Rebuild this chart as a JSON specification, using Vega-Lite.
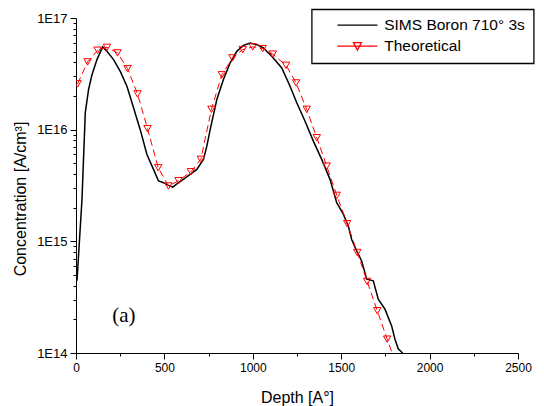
{
  "$schema": "https://vega.github.io/schema/vega-lite/v6.json",
  "width": 442,
  "height": 335,
  "autosize": {"type": "none"},
  "padding": {"left": 76, "top": 18, "right": 26, "bottom": 53},
  "background": "white",
  "config": {
    "view": {"stroke": null},
    "font": "Liberation Sans",
    "axis": {
      "grid": false,
      "domainColor": "black",
      "domainWidth": 1,
      "tickColor": "black",
      "tickWidth": 1,
      "labelColor": "black",
      "titleColor": "black",
      "labelFont": "Liberation Sans",
      "titleFont": "Liberation Sans",
      "titleFontWeight": "normal",
      "labelOverlap": false,
      "labelFlush": false
    }
  },
  "datasets": {
    "sims": [
      {"depth": 5.6, "conc": 4.43e14, "series": "SIMS Boron 710° 3s"},
      {"depth": 33.9, "conc": 2.38e15, "series": "SIMS Boron 710° 3s"},
      {"depth": 52.5, "conc": 1.42e16, "series": "SIMS Boron 710° 3s"},
      {"depth": 71.2, "conc": 2.29e16, "series": "SIMS Boron 710° 3s"},
      {"depth": 90.4, "conc": 3.11e16, "series": "SIMS Boron 710° 3s"},
      {"depth": 118.6, "conc": 4.24e16, "series": "SIMS Boron 710° 3s"},
      {"depth": 150.3, "conc": 5.51e16, "series": "SIMS Boron 710° 3s"},
      {"depth": 175.1, "conc": 5.03e16, "series": "SIMS Boron 710° 3s"},
      {"depth": 212.4, "conc": 4.24e16, "series": "SIMS Boron 710° 3s"},
      {"depth": 250.3, "conc": 3.33e16, "series": "SIMS Boron 710° 3s"},
      {"depth": 288.1, "conc": 2.45e16, "series": "SIMS Boron 710° 3s"},
      {"depth": 325.4, "conc": 1.57e16, "series": "SIMS Boron 710° 3s"},
      {"depth": 363.3, "conc": 1.0e16, "series": "SIMS Boron 710° 3s"},
      {"depth": 401.1, "conc": 6.0e15, "series": "SIMS Boron 710° 3s"},
      {"depth": 438.4, "conc": 4.41e15, "series": "SIMS Boron 710° 3s"},
      {"depth": 466.7, "conc": 3.47e15, "series": "SIMS Boron 710° 3s"},
      {"depth": 494.9, "conc": 3.35e15, "series": "SIMS Boron 710° 3s"},
      {"depth": 523.2, "conc": 3.17e15, "series": "SIMS Boron 710° 3s"},
      {"depth": 548.0, "conc": 3.06e15, "series": "SIMS Boron 710° 3s"},
      {"depth": 566.7, "conc": 3.24e15, "series": "SIMS Boron 710° 3s"},
      {"depth": 598.9, "conc": 3.52e15, "series": "SIMS Boron 710° 3s"},
      {"depth": 645.8, "conc": 3.98e15, "series": "SIMS Boron 710° 3s"},
      {"depth": 683.6, "conc": 4.41e15, "series": "SIMS Boron 710° 3s"},
      {"depth": 720.9, "conc": 5.42e15, "series": "SIMS Boron 710° 3s"},
      {"depth": 740.1, "conc": 7.12e15, "series": "SIMS Boron 710° 3s"},
      {"depth": 758.8, "conc": 1.0e16, "series": "SIMS Boron 710° 3s"},
      {"depth": 796.6, "conc": 1.86e16, "series": "SIMS Boron 710° 3s"},
      {"depth": 833.9, "conc": 2.81e16, "series": "SIMS Boron 710° 3s"},
      {"depth": 871.8, "conc": 3.96e16, "series": "SIMS Boron 710° 3s"},
      {"depth": 909.6, "conc": 5.03e16, "series": "SIMS Boron 710° 3s"},
      {"depth": 946.9, "conc": 5.69e16, "series": "SIMS Boron 710° 3s"},
      {"depth": 984.7, "conc": 5.98e16, "series": "SIMS Boron 710° 3s"},
      {"depth": 1022.6, "conc": 5.77e16, "series": "SIMS Boron 710° 3s"},
      {"depth": 1059.9, "conc": 5.4e16, "series": "SIMS Boron 710° 3s"},
      {"depth": 1107.3, "conc": 4.54e16, "series": "SIMS Boron 710° 3s"},
      {"depth": 1163.8, "conc": 3.57e16, "series": "SIMS Boron 710° 3s"},
      {"depth": 1210.7, "conc": 2.45e16, "series": "SIMS Boron 710° 3s"},
      {"depth": 1248.6, "conc": 1.74e16, "series": "SIMS Boron 710° 3s"},
      {"depth": 1295.5, "conc": 1.19e16, "series": "SIMS Boron 710° 3s"},
      {"depth": 1342.4, "conc": 7.89e15, "series": "SIMS Boron 710° 3s"},
      {"depth": 1389.8, "conc": 5.42e15, "series": "SIMS Boron 710° 3s"},
      {"depth": 1436.7, "conc": 3.59e15, "series": "SIMS Boron 710° 3s"},
      {"depth": 1474.6, "conc": 2.22e15, "series": "SIMS Boron 710° 3s"},
      {"depth": 1511.9, "conc": 1.75e15, "series": "SIMS Boron 710° 3s"},
      {"depth": 1540.1, "conc": 1.37e15, "series": "SIMS Boron 710° 3s"},
      {"depth": 1559.3, "conc": 1.04e15, "series": "SIMS Boron 710° 3s"},
      {"depth": 1587.6, "conc": 8.2e14, "series": "SIMS Boron 710° 3s"},
      {"depth": 1615.8, "conc": 6.68e14, "series": "SIMS Boron 710° 3s"},
      {"depth": 1644.1, "conc": 4.58e14, "series": "SIMS Boron 710° 3s"},
      {"depth": 1681.4, "conc": 4.43e14, "series": "SIMS Boron 710° 3s"},
      {"depth": 1709.6, "conc": 3.04e14, "series": "SIMS Boron 710° 3s"},
      {"depth": 1747.5, "conc": 2.47e14, "series": "SIMS Boron 710° 3s"},
      {"depth": 1785.3, "conc": 1.75e14, "series": "SIMS Boron 710° 3s"},
      {"depth": 1804.0, "conc": 1.33e14, "series": "SIMS Boron 710° 3s"},
      {"depth": 1822.6, "conc": 1.09e14, "series": "SIMS Boron 710° 3s"},
      {"depth": 1847.5, "conc": 1.0e14, "series": "SIMS Boron 710° 3s"}
    ],
    "theo": [
      {"depth": 9, "conc": 2.57e16, "series": "Theoretical"},
      {"depth": 65.5, "conc": 4.04e16, "series": "Theoretical"},
      {"depth": 122, "conc": 5.14e16, "series": "Theoretical"},
      {"depth": 175, "conc": 5.46e16, "series": "Theoretical"},
      {"depth": 235, "conc": 4.87e16, "series": "Theoretical"},
      {"depth": 291.5, "conc": 3.52e16, "series": "Theoretical"},
      {"depth": 348, "conc": 2.09e16, "series": "Theoretical"},
      {"depth": 404.5, "conc": 1.02e16, "series": "Theoretical"},
      {"depth": 465, "conc": 4.57e15, "series": "Theoretical"},
      {"depth": 523, "conc": 3.13e15, "series": "Theoretical"},
      {"depth": 580, "conc": 3.49e15, "series": "Theoretical"},
      {"depth": 650, "conc": 4.2e15, "series": "Theoretical"},
      {"depth": 706, "conc": 5.42e15, "series": "Theoretical"},
      {"depth": 766, "conc": 1.52e16, "series": "Theoretical"},
      {"depth": 825, "conc": 3.1e16, "series": "Theoretical"},
      {"depth": 885, "conc": 4.39e16, "series": "Theoretical"},
      {"depth": 943, "conc": 5.21e16, "series": "Theoretical"},
      {"depth": 1000, "conc": 5.51e16, "series": "Theoretical"},
      {"depth": 1056, "conc": 5.32e16, "series": "Theoretical"},
      {"depth": 1113, "conc": 4.75e16, "series": "Theoretical"},
      {"depth": 1188, "conc": 3.77e16, "series": "Theoretical"},
      {"depth": 1245, "conc": 2.62e16, "series": "Theoretical"},
      {"depth": 1305, "conc": 1.52e16, "series": "Theoretical"},
      {"depth": 1362, "conc": 8.47e15, "series": "Theoretical"},
      {"depth": 1418, "conc": 4.72e15, "series": "Theoretical"},
      {"depth": 1475, "conc": 2.58e15, "series": "Theoretical"},
      {"depth": 1534, "conc": 1.44e15, "series": "Theoretical"},
      {"depth": 1591, "conc": 7.94e14, "series": "Theoretical"},
      {"depth": 1647, "conc": 4.37e14, "series": "Theoretical"},
      {"depth": 1704, "conc": 2.39e14, "series": "Theoretical"},
      {"depth": 1760, "conc": 1.33e14, "series": "Theoretical"},
      {"depth": 1817, "conc": 7.4e13, "series": "Theoretical"}
    ],
    "ann": [
      {"depth": 271, "conc": 2.13e14, "label": "(a)"}
    ]
  },
  "encoding": {
    "x": {
      "field": "depth",
      "type": "quantitative",
      "scale": {"domain": [0, 2500], "nice": false, "zero": false},
      "axis": {
        "title": "Depth [A°]",
        "values": [0, 250, 500, 750, 1000, 1250, 1500, 1750, 2000, 2250, 2500],
        "format": "d",
        "labelExpr": "datum.value % 500 === 0 ? datum.label : ''",
        "tickSize": {"condition": {"test": "datum.value % 500 === 0", "value": 6}, "value": 3},
        "labelFontSize": 12,
        "labelPadding": 3,
        "titleFontSize": 16,
        "titleBaseline": "alphabetic",
        "titleY": 49
      }
    },
    "y": {
      "field": "conc",
      "type": "quantitative",
      "scale": {"type": "log", "domain": [1e14, 1e17], "nice": false},
      "axis": {
        "title": "Concentration [A/cm³]",
        "values": [1e14, 2e14, 3e14, 4e14, 5e14, 6e14, 7e14, 8e14, 9e14, 1e15, 2e15, 3e15, 4e15, 5e15, 6e15, 7e15, 8e15, 9e15, 1e16, 2e16, 3e16, 4e16, 5e16, 6e16, 7e16, 8e16, 9e16, 1e17],
        "labelExpr": "abs(log(datum.value)/LN10 - round(log(datum.value)/LN10)) < 0.000001 ? '1E' + round(log(datum.value)/LN10) : ''",
        "tickSize": {"condition": {"test": "abs(log(datum.value)/LN10 - round(log(datum.value)/LN10)) < 0.000001", "value": 6}, "value": 3},
        "labelFontSize": 13,
        "labelPadding": 3,
        "titleFontSize": 16,
        "titleAngle": 270,
        "titleAlign": "center",
        "titleBaseline": "alphabetic",
        "titleX": -51,
        "titleY": 180.5
      }
    }
  },
  "layer": [
    {
      "data": {"name": "sims"},
      "mark": {"type": "line", "strokeWidth": 1.5, "clip": true},
      "encoding": {
        "color": {
          "field": "series",
          "type": "nominal",
          "scale": {"domain": ["SIMS Boron 710° 3s", "Theoretical"], "range": ["black", "red"]},
          "legend": {
            "title": null,
            "orient": "none",
            "legendX": 235.7,
            "legendY": -8.7,
            "padding": 8,
            "strokeColor": "black",
            "fillColor": "white",
            "labelFont": "Liberation Sans",
            "labelFontSize": 15.5,
            "labelColor": "black",
            "labelLimit": 400,
            "symbolSize": 100,
            "symbolStrokeWidth": 1.3,
            "symbolOffset": 30,
            "labelOffset": 19,
            "rowPadding": 4,
            "symbolType": "M-4,0L4,0",
            "labelExpr": "datum.label + '\u00a0\u00a0\u00a0\u00a0\u00a0\u00a0\u00a0\u00a0'",
            "encode": {
              "legend": {"update": {"strokeWidth": {"value": 1.3}}},
              "symbols": {"update": {"shape": {"signal": "datum.value === 'Theoretical' ? 'M-4,0L4,0M-0.8,-0.7L0.8,-0.7L0,0.8Z' : 'M-4,0L4,0'"}}}
            }
          }
        }
      }
    },
    {
      "data": {"name": "theo"},
      "mark": {"type": "line", "strokeWidth": 1, "strokeDash": [7, 4], "clip": true},
      "encoding": {
        "color": {"field": "series", "type": "nominal"}
      }
    },
    {
      "data": {"name": "theo"},
      "mark": {"type": "point", "shape": "triangle-down", "filled": false, "color": "red", "size": 55, "strokeWidth": 1, "opacity": 1, "clip": true}
    },
    {
      "data": {"name": "ann"},
      "mark": {"type": "text", "font": "Liberation Serif", "fontSize": 21, "color": "black"},
      "encoding": {"text": {"field": "label"}}
    }
  ]
}
